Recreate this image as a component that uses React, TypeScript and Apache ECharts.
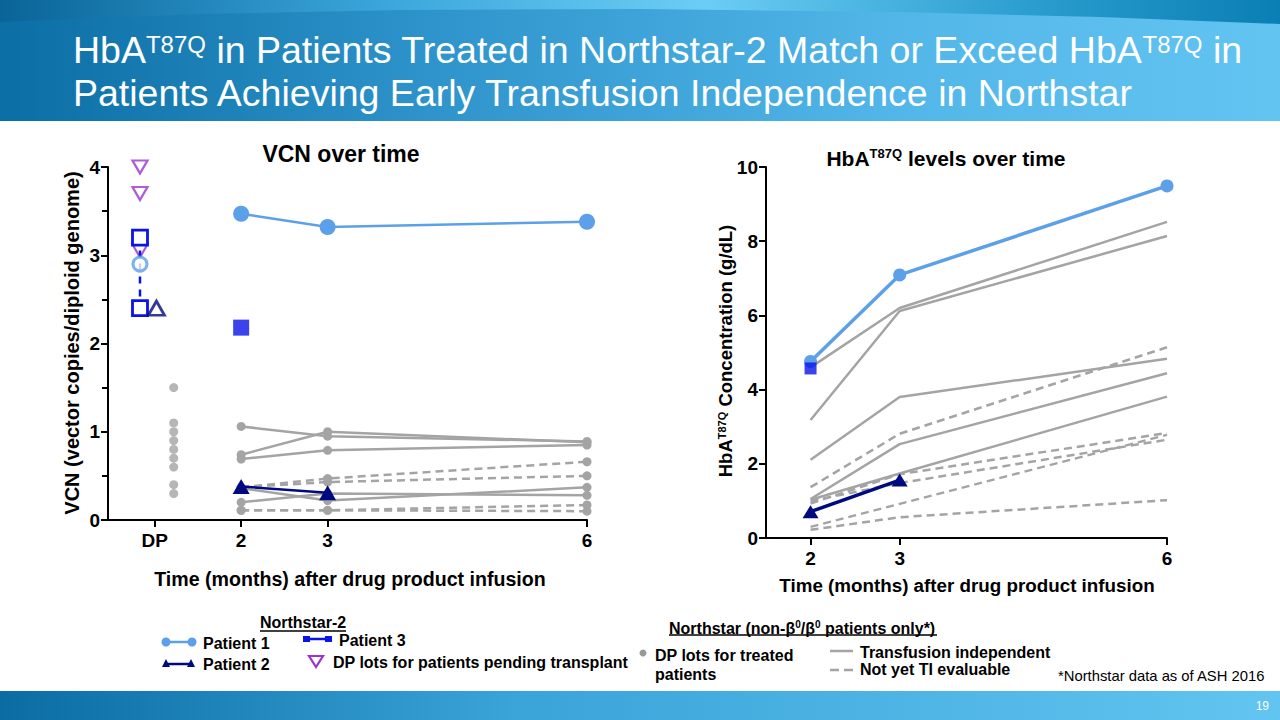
import React, { useEffect, useRef } from "react";
import * as echarts from "echarts";

// ---------- data ----------
const months = [2, 3, 6];
const vcnTickValues = [1, 2, 3, 6];
const vcnTickLabels: Record<string, string> = { "1": "DP", "2": "2", "3": "3", "6": "6" };
const hbTickValues = [2, 3, 6];
const vcnYTicks = [0, 1, 2, 3, 4];
const hbYTicks = [0, 2, 4, 6, 8, 10];

// VCN (vector copies / diploid genome)
const vcnPatient1 = [3.47, 3.32, 3.38];
const vcnPatient1DP = [2.9];
const vcnPatient2 = [0.38, 0.31];
const vcnPatient2DP = [2.4];
const vcnPatient3 = [2.18];
const vcnPatient3DP = [3.2, 2.4];
const vcnPendingDP = [4.0, 3.7, 3.05];
const vcnNorthstarDP = [1.5, 1.1, 1.0, 0.9, 0.8, 0.7, 0.6, 0.4, 0.3];
const vcnNorthstarTI = [
  [1.06, 0.95, 0.89],
  [0.74, 1.0, 0.88],
  [0.69, 0.79, 0.85],
  [0.36, 0.22, 0.37],
  [0.2, 0.3, 0.28],
];
const vcnNorthstarNotTI = [
  [0.37, 0.47, 0.66],
  [0.37, 0.43, 0.5],
  [0.11, 0.11, 0.17],
  [0.11, 0.11, 0.1],
];

// HbA T87Q (g/dL)
const hbPatient1 = [4.76, 7.09, 9.49];
const hbPatient2 = [0.71, 1.56];
const hbPatient3 = [4.57];
const hbNorthstarTI = [
  [4.6, 6.2, 8.52],
  [3.18, 6.12, 8.14],
  [2.11, 3.8, 4.83],
  [1.05, 2.53, 4.44],
  [1.03, 1.74, 3.81],
];
const hbNorthstarNotTI = [
  [1.37, 2.81, 5.14],
  [0.93, 1.72, 2.83],
  [1.0, 1.48, 2.65],
  [0.3, 0.92, 2.78],
  [0.22, 0.56, 1.02],
];

// x positions of the DP columns (DP tick = 1)
const DP_NS2_X = 0.83;
const DP_P2_X = 1.02;
const DP_NS_X = 1.22;

// ---------- styles ----------
const FONT = "'Liberation Sans', Arial, Helvetica, sans-serif";
const C_P1 = "#5ba0e8";
const C_P2 = "#000a80";
const C_P3 = "#0a14e8";
const C_PURPLE = "#9a35cf";
const C_GRAY = "#a4a4a4";
const DASH = [8, 5];

const pairs = (xs: number[], ys: number[]) => ys.map((v, i) => [xs[i], v]);

function buildOption() {
  const series: any[] = [];
  // ----- left chart (VCN) -----
  vcnNorthstarTI.forEach((arr) =>
    series.push({
      type: "line", xAxisIndex: 0, yAxisIndex: 0, data: pairs(months, arr),
      symbol: "circle", symbolSize: 9, itemStyle: { color: C_GRAY },
      lineStyle: { color: C_GRAY, width: 2.5 }, z: 2,
    })
  );
  vcnNorthstarNotTI.forEach((arr) =>
    series.push({
      type: "line", xAxisIndex: 0, yAxisIndex: 0, data: pairs(months, arr),
      symbol: "circle", symbolSize: 9, itemStyle: { color: C_GRAY },
      lineStyle: { color: C_GRAY, width: 2.5, type: DASH }, z: 2,
    })
  );
  series.push({
    type: "scatter", xAxisIndex: 0, yAxisIndex: 0,
    data: vcnNorthstarDP.map((v) => [DP_NS_X, v]),
    symbol: "circle", symbolSize: 9, itemStyle: { color: C_GRAY }, z: 2,
  });
  series.push({
    type: "scatter", xAxisIndex: 0, yAxisIndex: 0,
    data: vcnPendingDP.map((v) => [DP_NS2_X, v]),
    symbol: "triangle", symbolRotate: 180, symbolSize: [15, 13],
    itemStyle: { color: "#fff", borderColor: C_PURPLE, borderWidth: 2.2 }, z: 3,
  });
  series.push({
    type: "line", xAxisIndex: 0, yAxisIndex: 0,
    data: vcnPatient3DP.map((v) => [DP_NS2_X, v]),
    symbol: "rect", symbolSize: 15,
    itemStyle: { color: "#fff", borderColor: C_P3, borderWidth: 2.8 },
    lineStyle: { color: C_P3, width: 2.5, type: [7, 6] }, z: 4,
  });
  series.push({
    type: "scatter", xAxisIndex: 0, yAxisIndex: 0,
    data: vcnPatient1DP.map((v) => [DP_NS2_X, v]),
    symbol: "circle", symbolSize: 14,
    itemStyle: { color: "#fff", borderColor: C_P1, borderWidth: 3 }, z: 5,
  });
  series.push({
    type: "scatter", xAxisIndex: 0, yAxisIndex: 0,
    data: vcnPatient2DP.map((v) => [DP_P2_X, v]),
    symbol: "triangle", symbolSize: [16, 14],
    itemStyle: { color: "#fff", borderColor: C_P2, borderWidth: 2.8 }, z: 5,
  });
  series.push({
    type: "line", xAxisIndex: 0, yAxisIndex: 0, data: pairs(months, vcnPatient1),
    symbol: "circle", symbolSize: 16, itemStyle: { color: C_P1 },
    lineStyle: { color: C_P1, width: 2.5 }, z: 5,
  });
  series.push({
    type: "line", xAxisIndex: 0, yAxisIndex: 0, data: pairs(months, vcnPatient2),
    symbol: "triangle", symbolSize: [17, 15], itemStyle: { color: C_P2 },
    lineStyle: { color: C_P2, width: 2.5 }, z: 5,
  });
  series.push({
    type: "scatter", xAxisIndex: 0, yAxisIndex: 0, data: pairs(months, vcnPatient3),
    symbol: "rect", symbolSize: 16, itemStyle: { color: C_P3 }, z: 5,
  });

  // ----- right chart (HbA) -----
  hbNorthstarTI.forEach((arr) =>
    series.push({
      type: "line", xAxisIndex: 1, yAxisIndex: 1, data: pairs(months, arr),
      symbol: "none", lineStyle: { color: C_GRAY, width: 2.5 }, z: 2,
    })
  );
  hbNorthstarNotTI.forEach((arr) =>
    series.push({
      type: "line", xAxisIndex: 1, yAxisIndex: 1, data: pairs(months, arr),
      symbol: "none", lineStyle: { color: C_GRAY, width: 2.5, type: DASH }, z: 2,
    })
  );
  series.push({
    type: "line", xAxisIndex: 1, yAxisIndex: 1, data: pairs(months, hbPatient1),
    symbol: "circle", symbolSize: 13, itemStyle: { color: C_P1 },
    lineStyle: { color: C_P1, width: 3.5 }, z: 5,
  });
  series.push({
    type: "scatter", xAxisIndex: 1, yAxisIndex: 1, data: pairs(months, hbPatient3),
    symbol: "rect", symbolSize: 12, itemStyle: { color: C_P3 }, z: 6,
  });
  series.push({
    type: "line", xAxisIndex: 1, yAxisIndex: 1, data: pairs(months, hbPatient2),
    symbol: "triangle", symbolSize: [16, 13], itemStyle: { color: C_P2 },
    lineStyle: { color: C_P2, width: 3.5 }, z: 6,
  });

  const axisLabel = { color: "#000", fontFamily: FONT, fontWeight: "bold", fontSize: 19 };
  const axisLine = { show: true, onZero: false, lineStyle: { color: "#000", width: 2 } };
  const axisTick = { show: true, length: 7, lineStyle: { color: "#000", width: 2 } };

  const txt = (x: number, y: number, text: string, size: number, extra: any = {}) => ({
    type: "text", x, y, silent: true,
    style: { text, fill: "#000", font: `bold ${size}px ${FONT}`, textAlign: "left", textVerticalAlign: "middle", ...extra },
  });

  const titleRich = {
    n: { fontSize: 37.5, fontFamily: FONT, fill: "#fff", lineHeight: 40, verticalAlign: "bottom" },
    s: { fontSize: 24, fontFamily: FONT, fill: "#fff", lineHeight: 26, padding: [0, 0, 13, 0], verticalAlign: "bottom" },
  };

  const supRich = (size: number, color = "#000") => ({
    n: { fontSize: size, fontFamily: FONT, fontWeight: "bold", fill: color, lineHeight: size + 4, verticalAlign: "bottom" },
    s: {
      fontSize: Math.round(size * 0.62), fontFamily: FONT, fontWeight: "bold", fill: color,
      lineHeight: Math.round(size * 0.62) + 2, padding: [0, 0, Math.round(size * 0.42), 0], verticalAlign: "bottom",
    },
  });

  const graphic: any[] = [
    // header band
    {
      type: "rect", shape: { x: 0, y: 0, width: 1280, height: 121 }, silent: true, z: -10,
      style: {
        fill: new echarts.graphic.LinearGradient(0, 0, 1, 0, [
          { offset: 0, color: "#0b6ea4" },
          { offset: 0.35, color: "#2f95cc" },
          { offset: 0.7, color: "#52b6e8" },
          { offset: 1, color: "#62c4f1" },
        ]),
      },
    },
    {
      type: "polygon", silent: true, z: -9,
      shape: {
        points: [
          [0, 0], [1280, 0], [1280, 24], [1100, 17], [900, 12], [640, 9], [400, 10], [200, 14], [0, 22],
        ],
      },
      style: {
        fill: new echarts.graphic.LinearGradient(0, 0, 1, 0, [
          { offset: 0, color: "#0a6498" },
          { offset: 0.3, color: "#3aa6db" },
          { offset: 0.55, color: "#6ccdf4" },
          { offset: 0.8, color: "#2c9ed0" },
          { offset: 1, color: "#0a7fb3" },
        ]),
      },
    },
    // footer band
    {
      type: "rect", shape: { x: 0, y: 691, width: 1280, height: 29 }, silent: true, z: -10,
      style: {
        fill: new echarts.graphic.LinearGradient(0, 0, 1, 0, [
          { offset: 0, color: "#0a6ca2" },
          { offset: 0.4, color: "#3aa3d8" },
          { offset: 1, color: "#62c5f1" },
        ]),
      },
    },
    {
      type: "text", x: 1269, y: 706, silent: true,
      style: { text: "19", fill: "#fff", font: `12px ${FONT}`, textAlign: "right", textVerticalAlign: "middle" },
    },
    // slide title
    {
      type: "text", x: 73, y: 49, silent: true,
      style: {
        text: "{n|HbA}{s|T87Q}{n| in Patients Treated in Northstar-2 Match or Exceed HbA}{s|T87Q}{n| in}",
        rich: titleRich, textAlign: "left", textVerticalAlign: "middle",
      },
    },
    {
      type: "text", x: 73, y: 92, silent: true,
      style: {
        text: "{n|Patients Achieving Early Transfusion Independence in Northstar}",
        rich: titleRich, textAlign: "left", textVerticalAlign: "middle",
      },
    },
    // chart titles
    txt(341, 154, "VCN over time", 23, { textAlign: "center" }),
    {
      type: "text", x: 946, y: 156, silent: true,
      style: { text: "{n|HbA}{s|T87Q}{n| levels over time}", rich: supRich(21), textAlign: "center", textVerticalAlign: "middle" },
    },
    // axis names
    {
      type: "text", x: 72, y: 343, rotation: Math.PI / 2, silent: true,
      style: { text: "VCN (vector copies/diploid genome)", fill: "#000", font: `bold 20px ${FONT}`, textAlign: "center", textVerticalAlign: "middle" },
    },
    txt(350, 579, "Time (months) after drug product infusion", 19.6, { textAlign: "center" }),
    {
      type: "text", x: 724, y: 351, rotation: Math.PI / 2, silent: true,
      style: { text: "{n|HbA}{s|T87Q}{n| Concentration (g/dL)}", rich: supRich(18.5), textAlign: "center", textVerticalAlign: "middle" },
    },
    txt(967, 585, "Time (months) after drug product infusion", 18.8, { textAlign: "center" }),

    // ----- legend: Northstar-2 -----
    txt(303, 622, "Northstar-2", 16, { textAlign: "center" }),
    { type: "line", silent: true, shape: { x1: 260, y1: 631, x2: 346, y2: 631 }, style: { stroke: "#000", lineWidth: 1.3 } },
    { type: "line", silent: true, shape: { x1: 164, y1: 642, x2: 193, y2: 642 }, style: { stroke: C_P1, lineWidth: 2.5 } },
    { type: "circle", silent: true, shape: { cx: 166, cy: 642, r: 4.5 }, style: { fill: C_P1 } },
    { type: "circle", silent: true, shape: { cx: 192, cy: 642, r: 4.5 }, style: { fill: C_P1 } },
    txt(203, 643, "Patient 1", 16),
    { type: "line", silent: true, shape: { x1: 305, y1: 639, x2: 330, y2: 639 }, style: { stroke: C_P3, lineWidth: 2.5 } },
    { type: "rect", silent: true, shape: { x: 303, y: 636, width: 7, height: 6 }, style: { fill: C_P3 } },
    { type: "rect", silent: true, shape: { x: 325, y: 636, width: 7, height: 6 }, style: { fill: C_P3 } },
    txt(339, 640, "Patient 3", 16),
    { type: "line", silent: true, shape: { x1: 164, y1: 664, x2: 193, y2: 664 }, style: { stroke: C_P2, lineWidth: 2.5 } },
    { type: "polygon", silent: true, shape: { points: [[162, 667], [166, 659], [170, 667]] }, style: { fill: C_P2 } },
    { type: "polygon", silent: true, shape: { points: [[187, 667], [191, 659], [195, 667]] }, style: { fill: C_P2 } },
    txt(203, 664, "Patient 2", 16),
    { type: "polygon", silent: true, shape: { points: [[309, 656], [323, 656], [316, 667]] }, style: { fill: "#fff", stroke: C_PURPLE, lineWidth: 2.2 } },
    txt(333, 662, "DP lots for patients pending transplant", 16),

    // ----- legend: Northstar -----
    {
      type: "text", x: 669, y: 626, silent: true,
      style: {
        text: "{n|Northstar (non-β}{s|0}{n|/β}{s|0}{n| patients only*)}",
        rich: supRich(16), textAlign: "left", textVerticalAlign: "middle",
      },
    },
    { type: "line", silent: true, shape: { x1: 669, y1: 635, x2: 937, y2: 635 }, style: { stroke: "#000", lineWidth: 1.3 } },
    { type: "circle", silent: true, shape: { cx: 643, cy: 653, r: 3.5 }, style: { fill: "#999" } },
    txt(655, 655, "DP lots for treated", 16),
    txt(655, 674, "patients", 16),
    { type: "line", silent: true, shape: { x1: 830, y1: 651, x2: 853, y2: 651 }, style: { stroke: C_GRAY, lineWidth: 2.5 } },
    txt(860, 652, "Transfusion independent", 16),
    { type: "line", silent: true, shape: { x1: 830, y1: 670, x2: 853, y2: 670 }, style: { stroke: C_GRAY, lineWidth: 2.5, lineDash: [9, 5] } },
    txt(860, 669, "Not yet TI evaluable", 16),
    {
      type: "text", x: 1058, y: 676, silent: true,
      style: { text: "*Northstar data as of ASH 2016", fill: "#000", font: `14.8px ${FONT}`, textAlign: "left", textVerticalAlign: "middle" },
    },
  ];

  return {
    animation: false,
    backgroundColor: "#fff",
    grid: [
      { left: 108, top: 167, width: 479, height: 353, containLabel: false },
      { left: 766, top: 167, width: 401, height: 371, containLabel: false },
    ],
    xAxis: [
      {
        type: "value", gridIndex: 0, min: 0.46, max: 6,
        splitLine: { show: false }, axisLine, axisTick: { ...axisTick, customValues: vcnTickValues },
        axisLabel: { ...axisLabel, margin: 11, customValues: vcnTickValues, formatter: (v: number) => vcnTickLabels[String(v)] ?? "" },
      },
      {
        type: "value", gridIndex: 1, min: 1.5, max: 6,
        splitLine: { show: false }, axisLine, axisTick: { ...axisTick, customValues: hbTickValues },
        axisLabel: { ...axisLabel, margin: 11, customValues: hbTickValues, formatter: (v: number) => String(v) },
      },
    ],
    yAxis: [
      {
        type: "value", gridIndex: 0, min: 0, max: 4, interval: 1,
        splitLine: { show: false }, axisLine, axisTick: { ...axisTick, customValues: vcnYTicks },
        minorTick: { show: true, splitNumber: 2, length: 6, lineStyle: { color: "#000", width: 2 } },
        axisLabel: { ...axisLabel, margin: 8, customValues: vcnYTicks },
      },
      {
        type: "value", gridIndex: 1, min: 0, max: 10, interval: 2,
        splitLine: { show: false }, axisLine, axisTick: { ...axisTick, customValues: hbYTicks },
        axisLabel: { ...axisLabel, margin: 8, customValues: hbYTicks },
      },
    ],
    series,
    graphic,
  };
}

export default function App() {
  const ref = useRef<HTMLDivElement>(null);
  useEffect(() => {
    if (!ref.current) return;
    const chart = echarts.init(ref.current, undefined, { renderer: "svg" });
    chart.setOption(buildOption() as any);
    return () => chart.dispose();
  }, []);
  return (
    <div
      ref={ref}
      style={{ position: "absolute", left: 0, top: 0, width: 1280, height: 720, background: "#fff" }}
    />
  );
}
